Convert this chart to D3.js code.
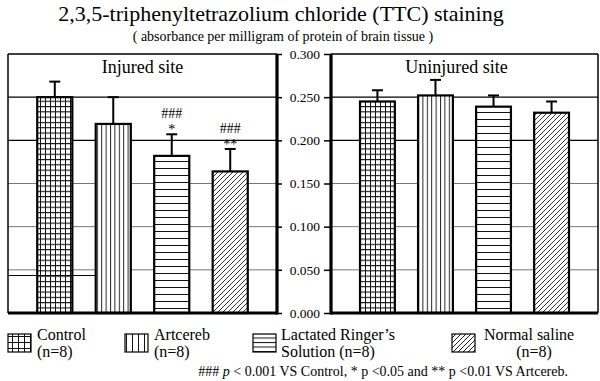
<!DOCTYPE html>
<html>
<head>
<meta charset="utf-8">
<script src="https://cdn.jsdelivr.net/npm/d3@7"></script>
<style>
  body { margin: 0; background: #fff; }
  svg text { font-family: "Liberation Serif", "Times New Roman", Times, serif; fill: #000; }
</style>
</head>
<body>
<div id="chart"></div>
<script>
// data
var groups = ["Control", "Artcereb", "Lactated", "Saline"]
var injured_mean = [0.250, 0.219, 0.182, 0.164]
var injured_err = [0.018, 0.031, 0.025, 0.026]
var uninjured_mean = [0.245, 0.252, 0.239, 0.232]
var uninjured_err = [0.013, 0.018, 0.013, 0.013]
var injured_marks = [[], [], ["###", "*"], ["###", "**"]]
var y_ticks = [0, 0.05, 0.10, 0.15, 0.20, 0.25, 0.30]
var legend_lines = [["Control", "(n=8)"], ["Artcereb", "(n=8)"], ["Lactated Ringer\u2019s", "Solution (n=8)"], ["Normal saline", "(n=8)"]]

var serif = "'Liberation Serif', 'Times New Roman', serif"

var svg = d3.select("#chart")
  .append("svg")
  .attr("width", 600)
  .attr("height", 381)

var defs = svg.append("defs")
function make_pattern(id, w, h, d, col){
    defs.append("pattern")
        .attr("id", id)
        .attr("patternUnits", "userSpaceOnUse")
        .attr("width", w)
        .attr("height", h)
      .append("path")
        .attr("d", d)
        .attr("stroke", col)
        .attr("stroke-width", 1)
        .attr("fill", "none")
}
// bar fills
make_pattern("p_grid", 5, 5.3, "M0,0.5H5M0.5,0V5.3", "#111")
make_pattern("p_vert", 4.4, 10, "M0.5,0V10", "#222")
make_pattern("p_horiz", 10, 7, "M0,0.5H10", "#111")
make_pattern("p_diag", 5, 5, "M0,5L5,0M-1,1L1,-1M4,6L6,4", "#333")
// legend fills (coarser)
make_pattern("l_grid", 6, 6, "M0,0.5H6M0.5,0V6", "#111")
make_pattern("l_vert", 6, 10, "M0.5,0V10", "#111")
make_pattern("l_horiz", 10, 4.5, "M0,0.5H10", "#111")
make_pattern("l_diag", 5, 5, "M0,5L5,0M-1,1L1,-1M4,6L6,4", "#222")
var fills = ["p_grid", "p_vert", "p_horiz", "p_diag"]
var legend_fills = ["l_grid", "l_vert", "l_horiz", "l_diag"]

var y = d3.scaleLinear()
    .domain([0, 0.3])
    .range([313, 54])

var panels = [
    {name: "Injured site", x0: 8, x1: 277, mean: injured_mean, err: injured_err, marks: injured_marks, side: "right"},
    {name: "Uninjured site", x0: 331, x1: 598, mean: uninjured_mean, err: uninjured_err, marks: [[], [], [], []], side: "left"}
]

// title
svg.append("text")
    .attr("x", 281).attr("y", 21)
    .attr("text-anchor", "middle")
    .attr("font-family", serif)
    .style("font-size", "22px")
    .text("2,3,5-triphenyltetrazolium chloride (TTC) staining")
svg.append("text")
    .attr("x", 283).attr("y", 41)
    .attr("text-anchor", "middle")
    .attr("font-family", serif)
    .style("font-size", "14px")
    .text("( absorbance per milligram of protein of brain tissue )")

panels.forEach(function(p){
    var g = svg.append("g")
    var x = d3.scaleBand()
        .domain(groups)
        .range([p.x0, p.x1])
        .paddingInner(0.4)
        .paddingOuter(0.5)

    // grid lines
    g.selectAll(".grid")
        .data(y_ticks.filter(function(t){ return t > 0 && t < 0.3 }))
        .enter()
        .append("line")
        .attr("x1", p.x0).attr("x2", p.x1)
        .attr("y1", function(d){ return y(d) })
        .attr("y2", function(d){ return y(d) })
        .attr("stroke", function(d){ return d >= 0.2 ? "#000" : "#777" })
        .attr("stroke-width", function(d){ return d >= 0.2 ? 1.3 : 1 })

    // frame
    g.append("line").attr("x1", p.x0).attr("x2", p.x1).attr("y1", y(0.3)).attr("y2", y(0.3))
        .attr("stroke", "#000").attr("stroke-width", 1.5)
    var outer = p.side == "right" ? p.x0 : p.x1
    g.append("line").attr("x1", outer).attr("x2", outer).attr("y1", y(0.3)).attr("y2", y(0))
        .attr("stroke", "#000").attr("stroke-width", 1.5)

    // bars
    g.selectAll(".bar")
        .data(p.mean)
        .enter()
        .append("rect")
        .attr("x", function(d, i){ return x(groups[i]) })
        .attr("y", function(d){ return y(d) })
        .attr("width", x.bandwidth())
        .attr("height", function(d){ return y(0) - y(d) })
        .attr("fill", "#fff")
    g.selectAll(".barp")
        .data(p.mean)
        .enter()
        .append("rect")
        .attr("x", function(d, i){ return x(groups[i]) })
        .attr("y", function(d){ return y(d) })
        .attr("width", x.bandwidth())
        .attr("height", function(d){ return y(0) - y(d) })
        .attr("fill", function(d, i){ return "url(#" + fills[i] + ")" })
        .attr("stroke", "#000")
        .attr("stroke-width", 2.2)

    // error bars (upper only)
    p.mean.forEach(function(m, i){
        var cx = x(groups[i]) + x.bandwidth() / 2
        var top = y(m + p.err[i])
        g.append("line").attr("x1", cx).attr("x2", cx).attr("y1", y(m)).attr("y2", top)
            .attr("stroke", "#000").attr("stroke-width", 2)
        g.append("line").attr("x1", cx - 5.5).attr("x2", cx + 5.5).attr("y1", top).attr("y2", top)
            .attr("stroke", "#000").attr("stroke-width", 2)
        p.marks[i].forEach(function(s, k){
            g.append("text")
                .attr("x", cx)
                .attr("y", top - 16 + k * 16 - (p.marks[i].length - 1) * 16 + 16)
                .attr("text-anchor", "middle")
                .attr("font-family", serif)
                .style("font-size", "14px")
                .text(s)
        })
    })

    g.append("text")
        .attr("x", (p.x0 + p.x1) / 2 + (p.side == "right" ? 0 : -8))
        .attr("y", 73)
        .attr("text-anchor", "middle")
        .attr("font-family", serif)
        .style("font-size", "18px")
        .text(p.name)

    // axis
    var axis_x = p.side == "right" ? p.x1 : p.x0
    var ax = p.side == "right"
        ? d3.axisRight(y).tickValues(y_ticks).tickSize(5).tickFormat("")
        : d3.axisLeft(y).tickValues(y_ticks).tickSize(7).tickPadding(4).tickFormat(d3.format(".3f"))
    var ag = g.append("g")
        .attr("transform", "translate(" + axis_x + ",0)")
        .call(ax)
    ag.attr("font-family", serif).attr("font-size", 13.5)
    ag.select(".domain").remove()
    ag.selectAll(".tick line").attr("stroke", "#000").attr("stroke-width", 1.5)
    ag.selectAll(".tick text").attr("fill", "#000")
    g.append("line").attr("x1", axis_x).attr("x2", axis_x).attr("y1", y(0.3)).attr("y2", y(0) + 1.5)
        .attr("stroke", "#000").attr("stroke-width", 3.2)
    g.append("line").attr("x1", p.x0).attr("x2", p.x1).attr("y1", y(0)).attr("y2", y(0))
        .attr("stroke", "#000").attr("stroke-width", 3.2)
})

// stray line in the left panel of the original
svg.append("line").attr("x1", 8).attr("x2", 96).attr("y1", 275.5).attr("y2", 275.5)
    .attr("stroke", "#000").attr("stroke-width", 1)

// legend
var legend_x = [8, 125, 253, 452]
var text_x = [37, 154, 281, 484]
legend_lines.forEach(function(l, i){
    svg.append("rect")
        .attr("x", legend_x[i]).attr("y", 334)
        .attr("width", 23).attr("height", 18)
        .attr("fill", "url(#" + legend_fills[i] + ")")
        .attr("stroke", "#000").attr("stroke-width", 1.2)
    svg.append("text")
        .attr("x", text_x[i]).attr("y", 339.5)
        .attr("font-family", serif)
        .style("font-size", "16px")
        .text(l[0])
    svg.append("text")
        .attr("x", i == 3 ? 534 : text_x[i]).attr("y", 357)
        .attr("text-anchor", i == 3 ? "middle" : "start")
        .attr("font-family", serif)
        .style("font-size", "16px")
        .text(l[1])
})

// footnote
var foot = svg.append("text")
    .attr("x", 568).attr("y", 375.5)
    .attr("text-anchor", "end")
    .attr("font-family", serif)
    .style("font-size", "14px")
foot.append("tspan").text("### ")
foot.append("tspan").style("font-style", "italic").text("p")
foot.append("tspan").text(" < 0.001 VS Control, * p <0.05 and ** p <0.01 VS Artcereb.")
</script>
</body>
</html>
